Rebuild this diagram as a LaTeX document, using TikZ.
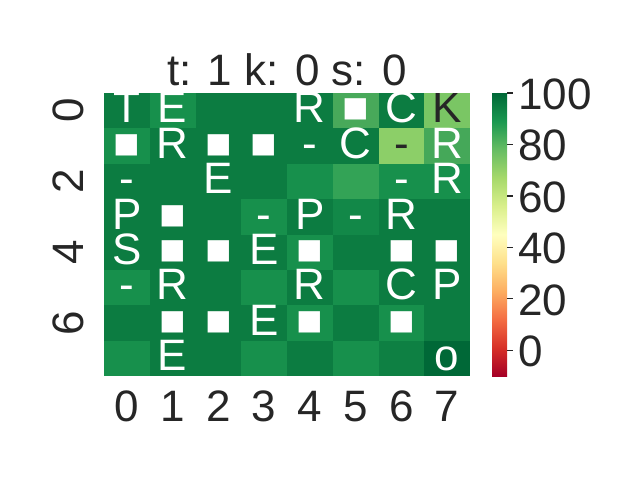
\documentclass[tikz,border=0pt]{standalone}
\usepackage{fontspec}
\setmainfont{Liberation Sans}
\definecolor{txt}{HTML}{262626}
\definecolor{D}{RGB}{12,124,65}
\definecolor{M}{RGB}{23,144,76}
\definecolor{Ma}{RGB}{18,136,72}
\definecolor{Dd}{RGB}{14,128,67}
\definecolor{Aa}{HTML}{48A95A}
\definecolor{Bb}{HTML}{7AC664}
\definecolor{Cc}{HTML}{8CCF68}
\definecolor{Ab}{HTML}{45A859}
\definecolor{Ee}{HTML}{33A356}
\definecolor{Ff}{HTML}{006837}
\definecolor{cbA}{HTML}{A50026}
\definecolor{cbB}{HTML}{D73027}
\definecolor{cbC}{HTML}{F46D43}
\definecolor{cbD}{HTML}{FDAE61}
\definecolor{cbE}{HTML}{FEE08B}
\definecolor{cbF}{HTML}{FFFFBF}
\definecolor{cbG}{HTML}{D9EF8B}
\definecolor{cbH}{HTML}{A6D96A}
\definecolor{cbI}{HTML}{66BD63}
\definecolor{cbJ}{HTML}{1A9850}
\definecolor{cbK}{HTML}{006837}
\pgfdeclareverticalshading{rdylgn}{100bp}{color(0bp)=(cbA); color(25bp)=(cbA); color(30bp)=(cbB); color(35bp)=(cbC); color(40bp)=(cbD); color(45bp)=(cbE); color(50bp)=(cbF); color(55bp)=(cbG); color(60bp)=(cbH); color(65bp)=(cbI); color(70bp)=(cbJ); color(75bp)=(cbK); color(100bp)=(cbK)}
\tikzset{
  bigfont/.style={font=\fontsize{33}{40}\selectfont},
  ann/.style={bigfont, anchor=base, inner sep=0pt, text=white},
  lbl/.style={bigfont, inner sep=0pt, text=txt},
}
\begin{document}
\begin{tikzpicture}[x=0.75pt,y=-0.75pt]
\useasboundingbox (0,0) rectangle (640,480);
% cells
\foreach \r/\row in {0/{D,M,D,D,D,Aa,D,Bb},1/{M,D,D,D,D,D,Cc,Ab},2/{D,D,D,D,M,Ee,M,M},3/{D,D,D,M,D,Ma,D,D},4/{D,D,D,D,M,D,D,D},5/{M,D,D,M,D,M,D,D},6/{D,D,D,D,M,D,M,D},7/{M,D,D,M,D,M,Dd,Ff}}{
  \foreach \col [count=\c from 0] in \row {
    \fill[\col] ({104+45.75*\c},{93+35.375*\r}) rectangle ++(46.1,35.7);
  }
}
% annotations
\begin{scope}
\clip (104,93) rectangle (470,376);
\foreach \r/\c/\lab/\k in {0/0/T/white,0/1/E/white,0/4/R/white,0/5/■/white,0/6/C/white,0/7/K/txt,
 1/0/■/white,1/1/R/white,1/2/■/white,1/3/■/white,1/4/-/white,1/5/C/white,1/6/-/txt,1/7/R/white,
 2/0/-/white,2/2/E/white,2/6/-/white,2/7/R/white,
 3/0/P/white,3/1/■/white,3/3/-/white,3/4/P/white,3/5/-/white,3/6/R/white,
 4/0/S/white,4/1/■/white,4/2/■/white,4/3/E/white,4/4/■/white,4/6/■/white,4/7/■/white,
 5/0/-/white,5/1/R/white,5/4/R/white,5/6/C/white,5/7/P/white,
 6/1/■/white,6/2/■/white,6/3/E/white,6/4/■/white,6/6/■/white,
 7/1/E/white,7/7/o/white}{
  \node[ann,text=\k] (a\r\c) at ({104+45.75*(\c+0.5)},{93+35.375*(\r+0.5)+12.2}) {\lab};
}
\end{scope}
% title
\node[lbl, anchor=base] (title) at (287,85) {t: 1 k: 0 s: 0};
% x labels
\foreach \c in {0,...,7}{
  \node[lbl, anchor=base] (x\c) at ({104+45.75*(\c+0.5)},421.5) {\c};
}
% y labels
\foreach \r in {0,2,4,6}{
  \node[lbl, anchor=base, rotate=90] (y\r) at (83.5,{93+35.375*(\r+0.5)}) {\r};
}
% colorbar
\shade[shading=rdylgn] (492,93) rectangle (507,376);
\foreach \v in {0,20,40,60,80,100}{
  \coordinate (t\v) at (507,{376-2.5727*(\v+10)});
  \draw[txt, line width=1pt] (t\v) -- ++(5.5,0);
  \node[lbl, anchor=base west] (c\v) at ([shift={(11,16.5)}]t\v) {\v};
}
\end{tikzpicture}
\end{document}
